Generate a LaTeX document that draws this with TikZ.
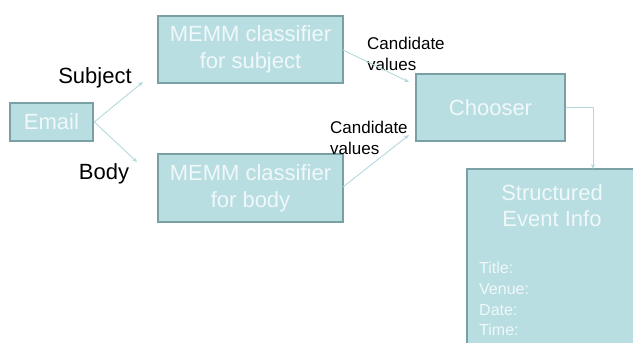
\documentclass[tikz,border=0pt]{standalone}
\usepackage{fontspec}
\setmainfont{Liberation Sans}
\usetikzlibrary{arrows.meta}
\definecolor{boxfill}{RGB}{184,222,226}
\definecolor{boxline}{RGB}{120,160,165}
\definecolor{boxtext}{RGB}{240,248,249}
\definecolor{arrowc}{RGB}{180,216,221}
\tikzset{
  procbox/.style={draw=boxline, line width=2.6pt, fill=boxfill, text=boxtext, align=center, inner sep=0pt},
  bigtext/.style={font=\fontsize{22}{27}\selectfont},
  lbl/.style={text=black, inner sep=0pt, align=left},
  arr/.style={draw=arrowc, line width=0.9pt, -{Stealth[length=5pt,width=4pt]}}
}
\begin{document}
\begin{tikzpicture}[x=1pt,y=-1pt]
\useasboundingbox (0,0) rectangle (633,343);
% boxes
\node[procbox, bigtext, minimum width=83pt, minimum height=38pt] (email) at (51.5,122) {Email};
\node[procbox, bigtext, minimum width=185pt, minimum height=67pt] (msub) at (250.5,49.5) {MEMM classifier\\for subject};
\node[procbox, bigtext, minimum width=185pt, minimum height=68pt] (mbody) at (250.5,188) {MEMM classifier\\for body};
\node[procbox, bigtext, minimum width=149pt, minimum height=67pt] (chooser) at (490.5,107.5) {Chooser};
\node[procbox, minimum width=170pt, minimum height=181pt] (sei) at (552,259.5) {};
\node[text=boxtext, align=center, inner sep=0pt, font=\fontsize{22}{26}\selectfont] (seititle) at (552,206) {Structured\\Event Info};
\node[text=boxtext, inner sep=0pt, align=left, anchor=west, font=\fontsize{16}{20.6}\selectfont] (fields) at (479,299) {Title:\\Venue:\\Date:\\Time:};
% labels
\node[lbl, font=\fontsize{22}{26}\selectfont] (lsub) at (95,78) {Subject};
\node[lbl, font=\fontsize{22}{26}\selectfont] (lbody) at (104,174) {Body};
\node[lbl, anchor=west, font=\fontsize{17}{21}\selectfont] (cv1) at (367,54) {Candidate\\values};
\node[lbl, anchor=west, font=\fontsize{17}{21}\selectfont] (cv2) at (330,138) {Candidate\\values};
% connector ends
\coordinate (tsub) at (143,82);
\coordinate (tbody) at (137,162);
\coordinate (csub) at (409,82);
\coordinate (cbody) at (409,135);
\coordinate (sstart) at (343,50);
\coordinate (bstart) at (343,187);
\coordinate (stop) at (593,169);
% connectors
\draw[arr] (email.east) -- (tsub);
\draw[arr] (email.east) -- (tbody);
\draw[arr] (sstart) -- (csub);
\draw[arr] (bstart) -- (cbody);
\draw[arr] (chooser.east) -| (stop);
\end{tikzpicture}
\end{document}
